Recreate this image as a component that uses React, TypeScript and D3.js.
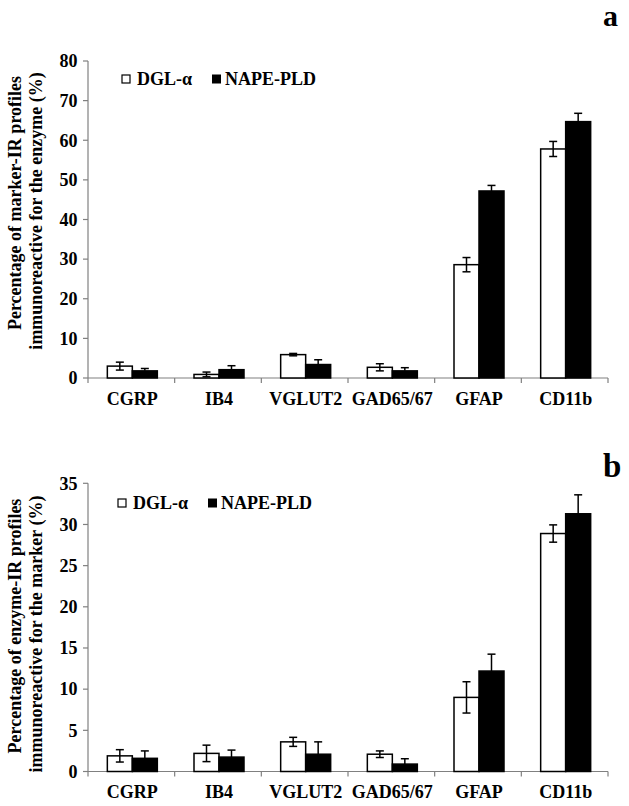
import React from "react";
import * as d3 from "d3";

const categories = ["CGRP", "IB4", "VGLUT2", "GAD65/67", "GFAP", "CD11b"];
const seriesNames = ["DGL-α", "NAPE-PLD"];

const aDGL = [3.0, 0.9, 5.9, 2.7, 28.6, 57.8];
const aDGLErr = [1.0, 0.6, 0.3, 0.9, 1.8, 1.9];
const aNAPE = [1.8, 2.1, 3.4, 1.8, 47.2, 64.7];
const aNAPEErr = [0.6, 1.0, 1.2, 0.8, 1.4, 2.1];
const aTicks = [0, 10, 20, 30, 40, 50, 60, 70, 80];

const bDGL = [1.9, 2.2, 3.6, 2.1, 9.0, 28.9];
const bDGLErr = [0.75, 1.0, 0.55, 0.4, 1.9, 1.05];
const bNAPE = [1.6, 1.75, 2.1, 0.9, 12.2, 31.3];
const bNAPEErr = [0.9, 0.85, 1.5, 0.65, 2.05, 2.3];
const bTicks = [0, 5, 10, 15, 20, 25, 30, 35];

const FONT = "'Liberation Serif', 'Times New Roman', serif";
const FS = 18;

type PanelProps = {
  y0: number;
  y1: number;
  maxV: number;
  ticks: number[];
  dgl: number[];
  dglErr: number[];
  nape: number[];
  napeErr: number[];
  title: string[];
  titleCenter: number;
  legendX: number;
  legendY: number;
  letter: string;
  letterY: number;
  letterSize: number;
  labelY: number;
};

function Panel(p: PanelProps) {
  const x = d3.scaleBand<string>().domain(categories).range([88, 608]).padding(0);
  const y = d3.scaleLinear().domain([0, p.maxV]).range([p.y0, p.y1]);
  const sub = d3
    .scaleBand<string>()
    .domain(seriesNames)
    .range([x.bandwidth() / 2 - 25, x.bandwidth() / 2 + 25]);
  const bw = sub.bandwidth();
  const series = [
    { name: seriesNames[0], vals: p.dgl, errs: p.dglErr, fill: "#fff" },
    { name: seriesNames[1], vals: p.nape, errs: p.napeErr, fill: "#000" },
  ];
  const bounds = categories.map((c) => x(c)!).concat([608]);
  return (
    <g fontFamily={FONT} fontWeight="bold">
      <line x1={88} x2={88} y1={p.y1} y2={p.y0} stroke="#808080" strokeWidth={1.2} />
      <line x1={88} x2={608} y1={p.y0} y2={p.y0} stroke="#808080" strokeWidth={1.2} />
      {p.ticks.map((t) => (
        <g key={t}>
          <line x1={83} x2={88} y1={y(t)} y2={y(t)} stroke="#808080" strokeWidth={1.2} />
          <text x={77.5} y={y(t)} dy="0.35em" textAnchor="end" fontSize={FS} fill="#000">
            {t}
          </text>
        </g>
      ))}
      {bounds.map((b, i) => (
        <line key={i} x1={b} x2={b} y1={p.y0} y2={p.y0 + 5} stroke="#808080" strokeWidth={1.2} />
      ))}
      {categories.map((c) => (
        <text key={c} x={x(c)! + x.bandwidth() / 2 + 1} y={p.labelY} textAnchor="middle" fontSize={FS} fill="#000">
          {c}
        </text>
      ))}
      {series.map((s) =>
        categories.map((c, i) => {
          const bx = x(c)! + sub(s.name)! + 1;
          const cx = bx + bw / 2;
          const top = y(s.vals[i]);
          const hi = y(s.vals[i] + s.errs[i]);
          const lo = y(Math.max(0, s.vals[i] - s.errs[i]));
          return (
            <g key={s.name + c}>
              <rect x={bx} y={top} width={bw} height={p.y0 - top} fill={s.fill} stroke="#000" strokeWidth={1.5} />
              <line x1={cx} x2={cx} y1={hi} y2={s.fill === "#000" ? top : lo} stroke="#000" strokeWidth={1.5} />
              <line x1={cx - 4} x2={cx + 4} y1={hi} y2={hi} stroke="#000" strokeWidth={1.5} />
              {s.fill === "#fff" && (
                <line x1={cx - 4} x2={cx + 4} y1={lo} y2={lo} stroke="#000" strokeWidth={1.5} />
              )}
            </g>
          );
        })
      )}
      <rect x={p.legendX} y={p.legendY - 10} width={8} height={8} fill="#fff" stroke="#000" strokeWidth={1.2} />
      <text x={p.legendX + 15} y={p.legendY} fontSize={FS} fill="#000">
        {seriesNames[0]}
      </text>
      <rect x={p.legendX + 90} y={p.legendY - 10.5} width={9} height={9} fill="#000" />
      <text x={p.legendX + 103} y={p.legendY} fontSize={FS} fill="#000">
        {seriesNames[1]}
      </text>
      <g transform={`translate(21, ${p.titleCenter}) rotate(-90)`}>
        <text x={0} y={0} textAnchor="middle" fontSize={FS} fill="#000">
          {p.title[0]}
        </text>
        <text x={-8} y={21} textAnchor="middle" fontSize={FS} fill="#000">
          {p.title[1]}
        </text>
      </g>
      <text x={603} y={p.letterY} fontSize={p.letterSize} fill="#000">
        {p.letter}
      </text>
    </g>
  );
}

export default function App() {
  return (
    <svg
      width={629}
      height={806}
      style={{ position: "absolute", left: 0, top: 0, background: "#fff" }}
    >
      <rect width={629} height={806} fill="#fff" />
      <Panel
        y0={378}
        y1={61}
        maxV={80}
        ticks={aTicks}
        dgl={aDGL}
        dglErr={aDGLErr}
        nape={aNAPE}
        napeErr={aNAPEErr}
        title={["Percentage of marker-IR profiles", "immunoreactive for the enzyme (%)"]}
        titleCenter={203}
        legendX={122}
        legendY={85}
        letter="a"
        letterY={26}
        letterSize={30}
        labelY={405}
      />
      <Panel
        y0={771.5}
        y1={483.3}
        maxV={35}
        ticks={bTicks}
        dgl={bDGL}
        dglErr={bDGLErr}
        nape={bNAPE}
        napeErr={bNAPEErr}
        title={["Percentage of enzyme-IR profiles", "immunoreactive for the marker (%)"]}
        titleCenter={626}
        legendX={118}
        legendY={509}
        letter="b"
        letterY={477}
        letterSize={33}
        labelY={798}
      />
    </svg>
  );
}
